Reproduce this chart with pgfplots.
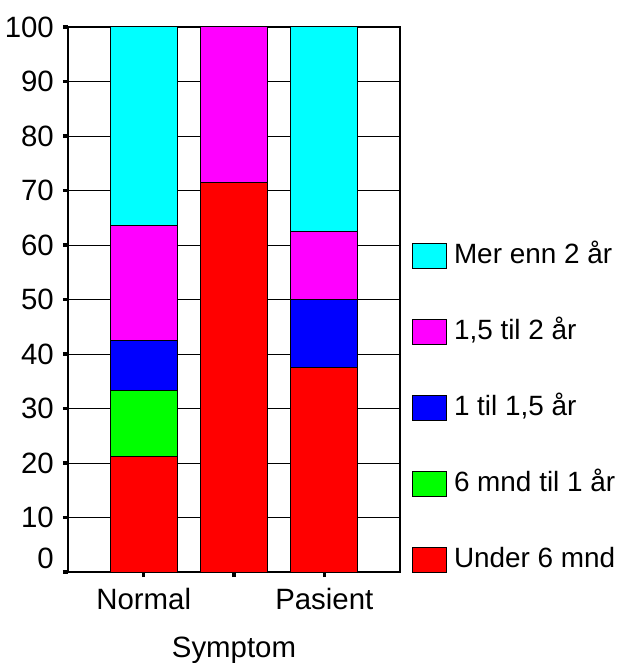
\documentclass[border=0pt]{standalone}
\usepackage{pgfplots}
\pgfplotsset{compat=1.18}
\usepackage{fontspec}
\setmainfont{Liberation Sans}

\definecolor{cMer}{RGB}{0,255,255}
\definecolor{cOnehalf}{RGB}{255,0,255}
\definecolor{cOne}{RGB}{0,0,255}
\definecolor{cSix}{RGB}{0,255,0}
\definecolor{cUnder}{RGB}{255,0,0}

\begin{document}
\begin{tikzpicture}
\useasboundingbox (-68bp,-91bp) rectangle (553bp,572bp);
\begin{axis}[
  at={(0,0)}, anchor=south west,
  scale only axis, width=332bp, height=545bp,
  ybar stacked, bar width=67bp,
  xmin=-0.839, xmax=2.839, ymin=0, ymax=100,
  xtick={0,1,2}, xticklabels={Normal,,Pasient},
  ytick={10,20,...,100},
  extra y ticks={0},
  extra y tick style={grid=none, tick label style={yshift=14bp}},
  xtick pos=lower, ytick pos=left,
  ymajorgrids, grid style={black, line width=0.9bp},
  axis line style={black, line width=1.2bp},
  tick align=outside, major tick length=5bp,
  tick style={black, line width=3.5bp},
  /pgf/number format/assume math mode=true,
  tick label style={font=\fontsize{29.5}{32}\selectfont, inner sep=0pt},
  yticklabel style={anchor=east, xshift=-9bp},
  xticklabel style={anchor=north, yshift=-11bp},
  xlabel={Symptom},
  xlabel style={at={(axis description cs:0.5,0)}, anchor=north, yshift=-65bp,
    inner sep=0pt, font=\fontsize{29.5}{32}\selectfont},
  reverse legend,
  legend cell align=left,
  legend image code/.code={\draw[#1,draw=black,line width=1bp] (0bp,-12.5bp) rectangle (34bp,12.5bp);},
  legend style={at={(1,-0.002)}, anchor=south west, xshift=12bp,
    draw=none, fill=none, inner sep=0pt, outer sep=0pt,
    row sep=50bp, column sep=7bp,
    font=\fontsize{28}{30}\selectfont,
    nodes={inner sep=0pt, text height=20bp, text depth=6bp}},
]
\addplot[fill=cUnder, draw=black, line width=1bp] coordinates {(0,21.2) (1,71.4) (2,37.5)};
\addlegendentry{Under 6 mnd}
\addplot[fill=cSix, draw=black, line width=1bp] coordinates {(0,12.1) (1,0) (2,0)};
\addlegendentry{6 mnd til 1 år}
\addplot[fill=cOne, draw=black, line width=1bp] coordinates {(0,9.1) (1,0) (2,12.5)};
\addlegendentry{1 til 1,5 år}
\addplot[fill=cOnehalf, draw=black, line width=1bp] coordinates {(0,21.2) (1,28.6) (2,12.5)};
\addlegendentry{1,5 til 2 år}
\addplot[fill=cMer, draw=black, line width=1bp] coordinates {(0,36.4) (1,0) (2,37.5)};
\addlegendentry{Mer enn 2 år}
\end{axis}
\end{tikzpicture}
\end{document}
